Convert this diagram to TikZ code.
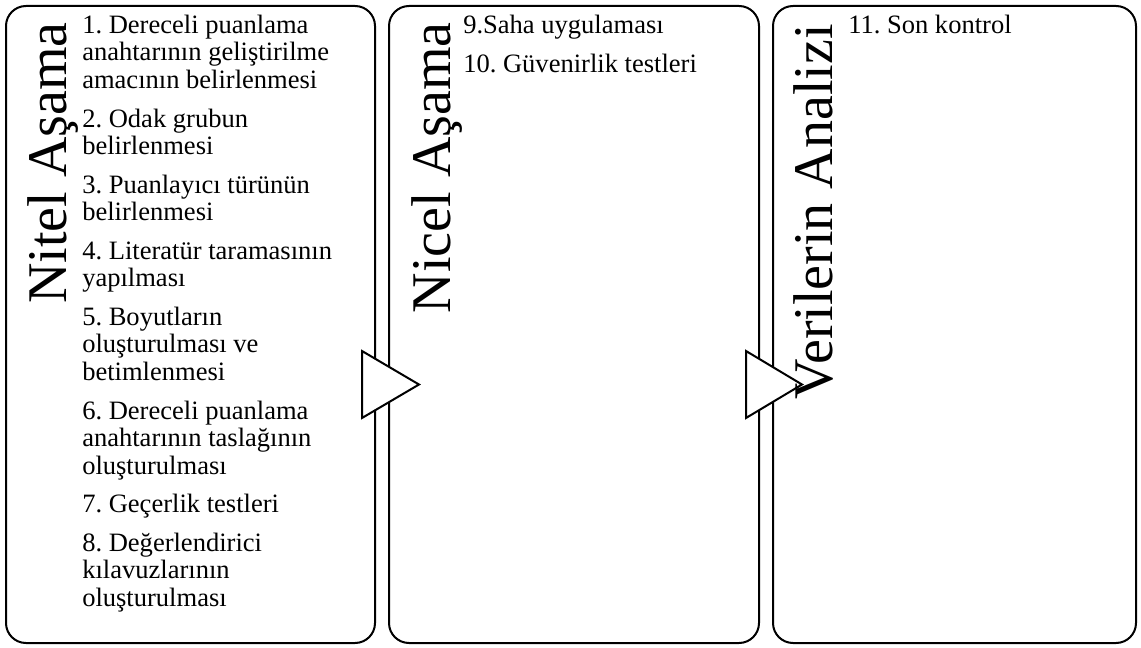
\documentclass[tikz,border=0pt]{standalone}
\usepackage{fontspec}
\setmainfont{Liberation Serif}
\usetikzlibrary{positioning}

\newcommand{\itemfont}{\fontsize{19.9}{20.6}\selectfont\frenchspacing}
\newcommand{\phasefont}{\fontsize{42}{44}\selectfont}

\tikzset{
  phasebox/.style={draw, line width=1.5pt, rounded corners=15pt, inner sep=0pt},
  phasetitle/.style={rotate=90, anchor=base east, inner sep=0pt, font=\phasefont},
  stepitem/.style={align=left, inner sep=0pt, font=\itemfont},
  chevron/.style={draw, fill=white, line width=1.5pt, line join=miter},
}

\begin{document}
\begin{tikzpicture}[x=0.75pt, y=-0.75pt]
  \useasboundingbox (0,0) rectangle (1141,648);

  % three phases
  \node[phasebox, minimum width=276.75pt, minimum height=477.75pt] (nitelbox) at (190.5,324.5) {};
  \node[phasebox, minimum width=277.5pt, minimum height=477.75pt] (nicelbox) at (574,324.5) {};
  \node[phasebox, minimum width=272.25pt, minimum height=477.75pt] (analizbox) at (954.5,324.5) {};

  % arrows between the phases
  \draw[chevron] (362,351) -- (362,418) -- (419,384.5) -- cycle;
  \draw[chevron] (746,351) -- (746,418) -- (802,384.5) -- cycle;

  % phase titles
  \node[phasetitle] (nitel) at (66,22) {Nitel Aşama};
  \node[phasetitle] (nicel) at (450,22) {Nicel Aşama};
  \node[phasetitle] (analiz) at (832,24) {Verilerin Analizi};

  % steps
  \node[stepitem, anchor=north west] (s1) at (82,14)
    {\strut 1. Dereceli puanlama\\anahtarının geliştirilme\\amacının belirlenmesi\strut};
  \node[stepitem, below right=8pt and 0pt of s1.south west] (s2)
    {\strut 2. Odak grubun\\belirlenmesi\strut};
  \node[stepitem, below right=8pt and 0pt of s2.south west] (s3)
    {\strut 3. Puanlayıcı türünün\\belirlenmesi\strut};
  \node[stepitem, below right=8pt and 0pt of s3.south west] (s4)
    {\strut 4. Literatür taramasının\\yapılması\strut};
  \node[stepitem, below right=8pt and 0pt of s4.south west] (s5)
    {\strut 5. Boyutların\\oluşturulması ve\\betimlenmesi\strut};
  \node[stepitem, below right=8pt and 0pt of s5.south west] (s6)
    {\strut 6. Dereceli puanlama\\anahtarının taslağının\\oluşturulması\strut};
  \node[stepitem, below right=8pt and 0pt of s6.south west] (s7)
    {\strut 7. Geçerlik testleri\strut};
  \node[stepitem, below right=8pt and 0pt of s7.south west] (s8)
    {\strut 8. Değerlendirici\\kılavuzlarının\\oluşturulması\strut};

  \node[stepitem, anchor=north west] (s9) at (463,14) {\strut 9.Saha uygulaması\strut};
  \node[stepitem, below right=8pt and 0pt of s9.south west] (s10)
    {\strut 10. Güvenirlik testleri\strut};

  \node[stepitem, anchor=north west] (s11) at (848,14) {\strut 11. Son kontrol\strut};
\end{tikzpicture}
\end{document}
